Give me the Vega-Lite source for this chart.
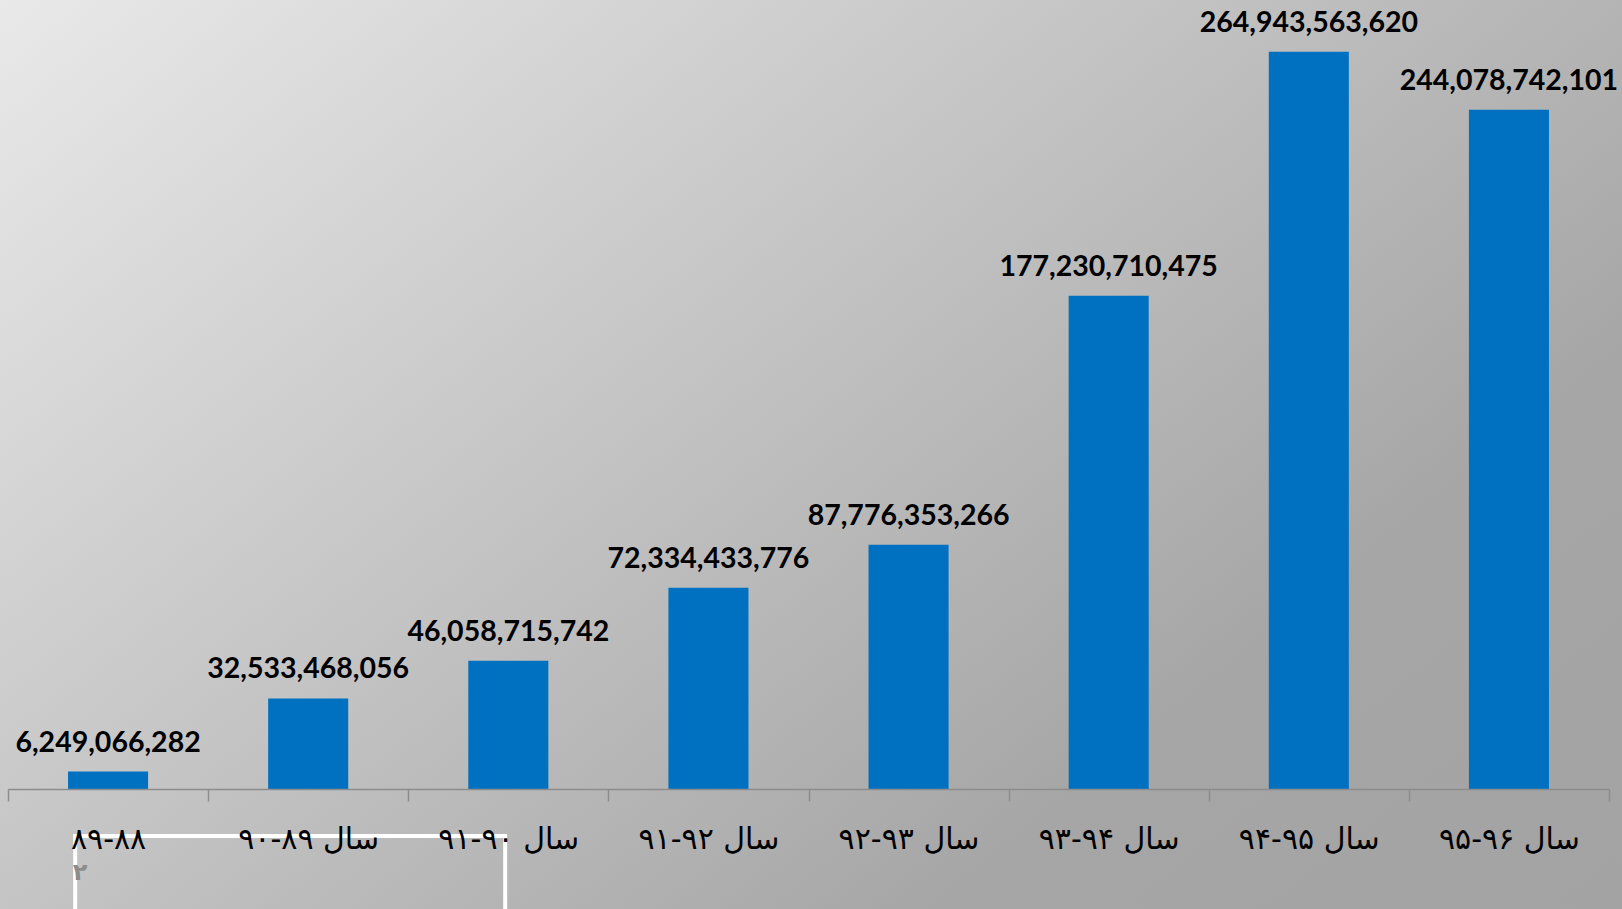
{
  "$schema": "https://vega.github.io/schema/vega-lite/v6.json",
  "width": 1622,
  "height": 909,
  "autosize": {"type": "none"},
  "padding": 0,
  "background": "#c0c0c0",
  "config": {
    "view": {
      "stroke": null,
      "fill": {
        "gradient": "linear",
        "x1": 0, "y1": 0, "x2": 1.144, "y2": 0.792,
        "stops": [
          {"offset": 0, "color": "#e9e9e9"},
          {"offset": 0.75, "color": "#a6a6a6"},
          {"offset": 1, "color": "#a3a3a3"}
        ]
      }
    }
  },
  "datasets": {
    "main": [
      {"period": "۸۹-۸۸", "amount": 6249066282},
      {"period": "سال ۸۹-۹۰", "amount": 32533468056},
      {"period": "سال ۹۰-۹۱", "amount": 46058715742},
      {"period": "سال ۹۲-۹۱", "amount": 72334433776},
      {"period": "سال ۹۳-۹۲", "amount": 87776353266},
      {"period": "سال ۹۴-۹۳", "amount": 177230710475},
      {"period": "سال ۹۵-۹۴", "amount": 264943563620},
      {"period": "سال ۹۶-۹۵", "amount": 244078742101}
    ],
    "footer": [
      {"period": "سال ۸۹-۹۰", "page": "۲"}
    ]
  },
  "layer": [
    {
      "data": {"name": "main"},
      "mark": {"type": "bar", "color": "#0070C0", "width": {"band": 0.4}},
      "encoding": {
        "x": {
          "field": "period",
          "type": "nominal",
          "sort": null,
          "scale": {"range": [8, 1609], "paddingInner": 0, "paddingOuter": 0},
          "axis": {
            "title": null,
            "offset": -120,
            "zindex": 1,
            "domainColor": "#8c8c8c",
            "domainWidth": 1.5,
            "tickColor": "#8c8c8c",
            "tickWidth": 1.5,
            "tickSize": 12,
            "tickBand": "extent",
            "labelFont": "DejaVu Sans",
            "labelFontSize": 30,
            "labelColor": "black",
            "labelAngle": 0,
            "labelBaseline": "alphabetic",
            "labelPadding": 47,
            "grid": false
          }
        },
        "y": {
          "field": "amount",
          "type": "quantitative",
          "scale": {"domain": [0, 283500000000], "range": [789, 0], "nice": false, "zero": false},
          "axis": null
        }
      }
    },
    {
      "data": {"name": "main"},
      "mark": {"type": "text", "font": "Lato", "fontWeight": "bold", "fontSize": 28.5, "dy": -20, "baseline": "alphabetic", "color": "black"},
      "encoding": {
        "x": {"field": "period", "type": "nominal", "sort": null},
        "y": {"field": "amount", "type": "quantitative", "scale": {"domain": [0, 283500000000], "range": [789, 0], "nice": false, "zero": false}},
        "text": {"field": "amount", "type": "quantitative", "format": ",.0f"}
      }
    },
    {
      "data": {"name": "footer"},
      "mark": {"type": "rect", "width": 430, "xOffset": -18, "fill": "transparent", "stroke": "white", "strokeWidth": 4, "clip": false},
      "encoding": {
        "x": {"field": "period", "type": "nominal", "sort": null},
        "y": {"datum": -16900000000, "scale": {"domain": [0, 283500000000], "range": [789, 0], "nice": false, "zero": false}},
        "y2": {"datum": -60000000000}
      }
    },
    {
      "data": {"name": "footer"},
      "mark": {"type": "text", "font": "DejaVu Sans", "fontWeight": "bold", "fontSize": 24, "baseline": "alphabetic", "color": "#8c8c8c", "dx": -210, "clip": false},
      "encoding": {
        "x": {"field": "period", "type": "nominal", "sort": null, "bandPosition": 0.41},
        "y": {"datum": -32800000000, "scale": {"domain": [0, 283500000000], "range": [789, 0], "nice": false, "zero": false}},
        "text": {"field": "page"}
      }
    }
  ]
}
